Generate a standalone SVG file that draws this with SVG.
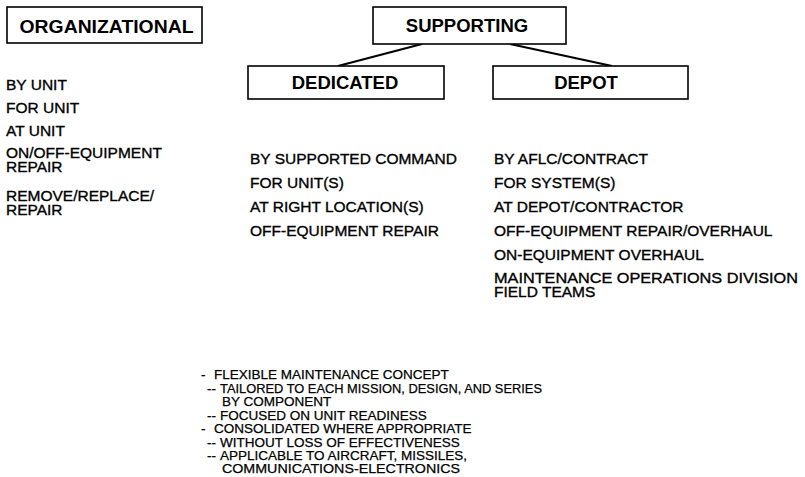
<svg xmlns="http://www.w3.org/2000/svg" width="805" height="477" viewBox="0 0 805 477">
<style>
text{font-family:"Liberation Sans",Arial,Helvetica,sans-serif;fill:#000}
.hdr{font-weight:bold;font-size:18.5px;text-anchor:middle}
.txt{font-size:15.5px;stroke:#000;stroke-width:0.35}
.sm{font-size:13.5px;stroke:#000;stroke-width:0.25}
.box{fill:#fff;stroke:#000;stroke-width:1.6}
.conn{stroke:#000;stroke-width:2.2;fill:none}
</style>
<rect width="805" height="477" fill="#fff"/>
<g id="connectors">
<line class="conn" x1="422" y1="44" x2="338" y2="66"/>
<line class="conn" x1="510" y1="44" x2="612" y2="66"/>
</g>
<g id="organizational">
<rect class="box" x="7" y="7" width="195" height="36"/>
<text class="hdr" x="106.5" y="33" textLength="174" lengthAdjust="spacingAndGlyphs">ORGANIZATIONAL</text>
<text class="txt" x="6" y="90">BY UNIT</text>
<text class="txt" x="6" y="113">FOR UNIT</text>
<text class="txt" x="6" y="136">AT UNIT</text>
<text class="txt"><tspan x="6" y="158">ON/OFF-EQUIPMENT</tspan><tspan x="6" y="172">REPAIR</tspan></text>
<text class="txt"><tspan x="6" y="201">REMOVE/REPLACE/</tspan><tspan x="6" y="215">REPAIR</tspan></text>
</g>
<g id="supporting">
<rect class="box" x="373" y="7" width="193" height="37"/>
<text class="hdr" x="467" y="32">SUPPORTING</text>
</g>
<g id="dedicated">
<rect class="box" x="248" y="66" width="196" height="33"/>
<text class="hdr" x="345" y="89">DEDICATED</text>
<text class="txt" x="250" y="164">BY SUPPORTED COMMAND</text>
<text class="txt" x="250" y="188">FOR UNIT(S)</text>
<text class="txt" x="250" y="212">AT RIGHT LOCATION(S)</text>
<text class="txt" x="250" y="236">OFF-EQUIPMENT REPAIR</text>
</g>
<g id="depot">
<rect class="box" x="493" y="66" width="195" height="33"/>
<text class="hdr" x="586" y="89">DEPOT</text>
<text class="txt" x="494" y="164">BY AFLC/CONTRACT</text>
<text class="txt" x="494" y="188">FOR SYSTEM(S)</text>
<text class="txt" x="494" y="212">AT DEPOT/CONTRACTOR</text>
<text class="txt" x="494" y="236">OFF-EQUIPMENT REPAIR/OVERHAUL</text>
<text class="txt" x="494" y="260">ON-EQUIPMENT OVERHAUL</text>
<text class="txt"><tspan x="494" y="283" textLength="304" lengthAdjust="spacingAndGlyphs">MAINTENANCE OPERATIONS DIVISION</tspan><tspan x="494" y="297">FIELD TEAMS</tspan></text>
</g>
<g id="notes">
<text class="sm"><tspan x="201" y="379">-</tspan><tspan x="214" y="379">FLEXIBLE MAINTENANCE CONCEPT</tspan></text>
<text class="sm"><tspan x="207" y="393">--</tspan><tspan x="220" y="393" textLength="322" lengthAdjust="spacingAndGlyphs">TAILORED TO EACH MISSION, DESIGN, AND SERIES</tspan><tspan x="222" y="406">BY COMPONENT</tspan></text>
<text class="sm"><tspan x="207" y="420">--</tspan><tspan x="220" y="420">FOCUSED ON UNIT READINESS</tspan></text>
<text class="sm"><tspan x="201" y="433">-</tspan><tspan x="214" y="433">CONSOLIDATED WHERE APPROPRIATE</tspan></text>
<text class="sm"><tspan x="207" y="447">--</tspan><tspan x="220" y="447">WITHOUT LOSS OF EFFECTIVENESS</tspan></text>
<text class="sm"><tspan x="207" y="460">--</tspan><tspan x="220" y="460">APPLICABLE TO AIRCRAFT, MISSILES,</tspan><tspan x="222" y="473" textLength="238" lengthAdjust="spacingAndGlyphs">COMMUNICATIONS-ELECTRONICS</tspan></text>
</g>
</svg>
